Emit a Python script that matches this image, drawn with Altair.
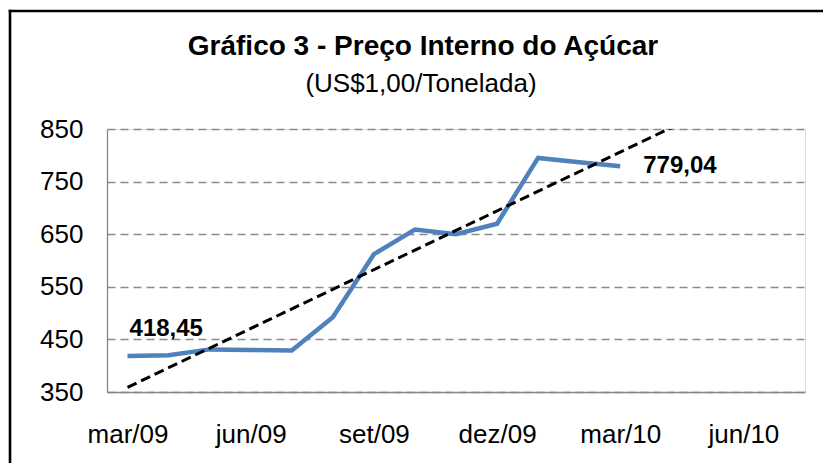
import altair as alt
import pandas as pd

# ---- data ----
months = ["mar/09", "abr/09", "mai/09", "jun/09", "jul/09", "ago/09", "set/09",
          "out/09", "nov/09", "dez/09", "jan/10", "fev/10", "mar/10",
          "abr/10", "mai/10", "jun/10", "jul/10"]
prices = [418.45, 420, 431, 430, 429, 492, 612, 659, 650, 670, 795, 787, 779.04]
tick_idx = [0, 3, 6, 9, 12, 15]
y_ticks = [350, 450, 550, 650, 750, 850]
title_text = "Gráfico 3 - Preço Interno do Açúcar"
subtitle_text = "(US$1,00/Tonelada)"

df = pd.DataFrame({"idx": list(range(len(prices))), "value": prices,
                   "month": months[:len(prices)]})
first = df.iloc[[0]].copy()
last = df.iloc[[-1]].copy()
for d in (first, last):
    d["label"] = d["value"].map(lambda v: f"{v:.2f}".replace(".", ","))

FONT = "Liberation Sans, Arial, sans-serif"
label_expr = "[" + ",".join(f"'{m}'" for m in months) + "][datum.value]"

x_enc = alt.X("idx:Q",
              scale=alt.Scale(domain=[-0.5, len(months) - 0.5], nice=False, zero=False),
              axis=alt.Axis(values=tick_idx, labelExpr=label_expr, grid=False, ticks=False,
                            domainColor="#868686", domainWidth=1.3, labelPadding=29,
                            labelFontSize=26, labelColor="black", labelFont=FONT,
                            title=None))
y_enc = alt.Y("value:Q",
              scale=alt.Scale(domain=[350, 850], nice=False, zero=False),
              axis=alt.Axis(values=y_ticks, grid=True, gridDash=[8, 5], gridColor="#8a8a8a",
                            gridWidth=1.3, ticks=False, domainColor="#868686", domainWidth=1.3,
                            labelPadding=24, labelFontSize=26, labelColor="black",
                            labelFont=FONT, title=None))

base = alt.Chart(df)

line = base.mark_line(color="#4F81BD", strokeWidth=4.5).encode(x=x_enc, y=y_enc)

trend = base.transform_regression(
    "idx", "value", extent=[0, len(months) - 1]
).mark_line(color="black", strokeWidth=3, strokeDash=[10, 5], clip=True).encode(
    x="idx:Q", y="value:Q")

lab1 = alt.Chart(first).mark_text(align="left", baseline="alphabetic", dx=2, dy=-20,
                                  fontSize=24, fontWeight="bold", font=FONT,
                                  color="black").encode(x="idx:Q", y="value:Q", text="label:N")
lab2 = alt.Chart(last).mark_text(align="left", baseline="middle", dx=23, dy=0,
                                 fontSize=24, fontWeight="bold", font=FONT,
                                 color="black").encode(x="idx:Q", y="value:Q", text="label:N")

one = pd.DataFrame({"t": [title_text], "s": [subtitle_text]})
title = alt.Chart(one).mark_text(align="center", baseline="alphabetic", fontSize=28,
                                 fontWeight="bold", font=FONT, color="black").encode(
    x=alt.value(316), y=alt.value(-74), text="t:N")
subtitle = alt.Chart(one).mark_text(align="center", baseline="alphabetic", fontSize=26,
                                    font=FONT, color="black").encode(
    x=alt.value(314), y=alt.value(-37), text="s:N")

# chart frame: only its top and left edges fall inside the picture
frame_df = pd.DataFrame({"a": [0]})
frame_top = alt.Chart(frame_df).mark_rule(color="black", strokeWidth=2.6, clip=False).encode(
    x=alt.value(-98.3), x2=alt.value(716), y=alt.value(-118))
frame_left = alt.Chart(frame_df).mark_rule(color="black", strokeWidth=2.6, clip=False).encode(
    x=alt.value(-97), y=alt.value(-119.3), y2=alt.value(334))

chart = alt.layer(frame_top, frame_left, line, trend, lab1, lab2, title, subtitle).properties(
    width=698, height=263,
    autosize=alt.AutoSizeParams(type="none"),
    padding={"left": 99, "top": 121, "right": 18, "bottom": 71},
).configure_view(stroke=None).configure(background="white")

chart.save("out.html", embed_options={"renderer": "svg", "actions": False})
